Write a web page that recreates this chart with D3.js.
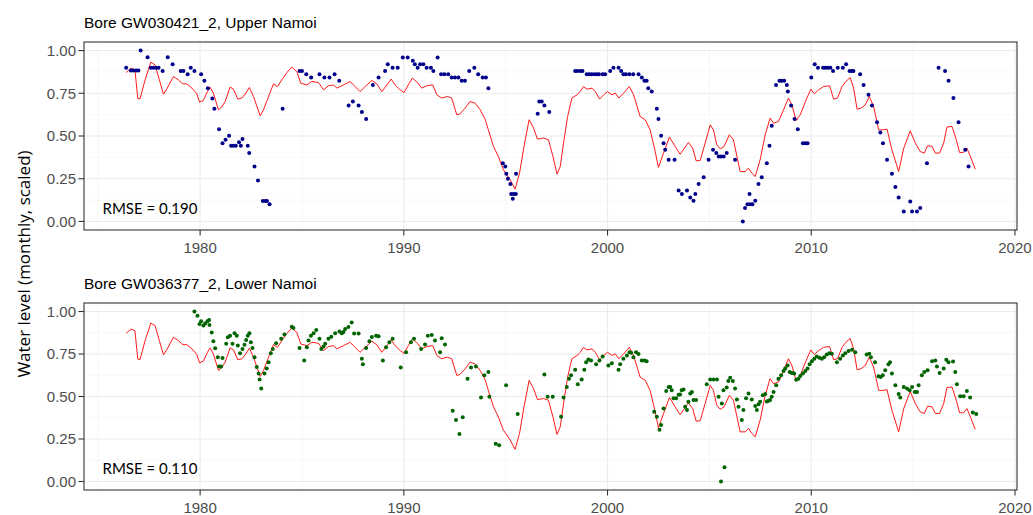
<!DOCTYPE html>
<html lang="en">
<head>
  <meta charset="UTF-8">
  <title>Bore water levels</title>
  <script src="https://d3js.org/d3.v7.min.js"></script>
  <style>
    body { margin: 0; background: #fff; }
    .grid-major { stroke: #ebebeb; stroke-width: 1.1; }
    .grid-minor { stroke: #f2f2f2; stroke-width: 0.6; }
    .frame { fill: none; stroke: #333333; stroke-width: 1.1; }
    .tick-mark { stroke: #333333; stroke-width: 1.1; }
    .tick-label { font-family: 'Liberation Sans', Arial, sans-serif; font-size: 15px; fill: #4d4d4d; }
    .panel-title { font-family: 'Liberation Sans', Arial, sans-serif; font-size: 15.5px; fill: #000; }
    .rmse { font-family: Lato, 'Open Sans', sans-serif; font-size: 15px; fill: #000; }
    .y-title { font-family: 'Open Sans', sans-serif; font-size: 17px; fill: #000; }
    .sim { fill: none; stroke: #ff0000; stroke-width: 0.9; }
  </style>
</head>
<body>
  <svg width="1033" height="515"></svg>
  <script>
    // simulated (scaled) water level, same model series in both panels
    const simulated = [[1976.37,0.871],[1976.6,0.897],[1976.8,0.887],[1976.94,0.72],[1977.05,0.717],[1977.3,0.829],[1977.58,0.932],[1977.79,0.916],[1978.0,0.829],[1978.2,0.745],[1978.36,0.774],[1978.69,0.848],[1978.93,0.829],[1979.15,0.805],[1979.35,0.805],[1979.6,0.780],[1979.84,0.747],[1979.97,0.698],[1980.16,0.708],[1980.36,0.760],[1980.49,0.786],[1980.65,0.751],[1980.9,0.653],[1981.06,0.669],[1981.23,0.702],[1981.47,0.786],[1981.64,0.774],[1981.85,0.716],[1982.05,0.722],[1982.21,0.745],[1982.42,0.784],[1982.62,0.731],[1982.95,0.618],[1983.11,0.653],[1983.36,0.731],[1983.6,0.805],[1983.8,0.789],[1984.01,0.829],[1984.26,0.871],[1984.5,0.903],[1984.75,0.877],[1984.94,0.809],[1985.24,0.799],[1985.48,0.819],[1985.81,0.813],[1986.06,0.770],[1986.3,0.794],[1986.55,0.799],[1986.71,0.780],[1987.04,0.799],[1987.36,0.819],[1987.61,0.789],[1987.85,0.760],[1988.1,0.789],[1988.43,0.825],[1988.67,0.805],[1988.92,0.760],[1989.17,0.799],[1989.38,0.833],[1989.57,0.799],[1989.82,0.770],[1990.01,0.754],[1990.22,0.799],[1990.42,0.839],[1990.67,0.813],[1990.88,0.780],[1991.13,0.794],[1991.42,0.799],[1991.62,0.741],[1991.86,0.722],[1992.14,0.731],[1992.35,0.722],[1992.6,0.624],[1992.76,0.630],[1993.01,0.663],[1993.25,0.702],[1993.5,0.692],[1993.75,0.653],[1993.99,0.599],[1994.15,0.536],[1994.4,0.439],[1994.64,0.380],[1994.89,0.302],[1995.22,0.244],[1995.46,0.189],[1995.68,0.283],[1995.9,0.439],[1996.15,0.595],[1996.37,0.546],[1996.56,0.482],[1996.86,0.488],[1997.1,0.478],[1997.32,0.380],[1997.52,0.277],[1997.68,0.322],[1997.84,0.458],[1998.04,0.614],[1998.25,0.722],[1998.5,0.741],[1998.66,0.760],[1998.82,0.789],[1998.99,0.774],[1999.24,0.780],[1999.4,0.760],[1999.61,0.716],[1999.81,0.741],[2000.0,0.760],[2000.22,0.741],[2000.38,0.751],[2000.55,0.722],[2000.79,0.751],[2001.07,0.789],[2001.28,0.741],[2001.6,0.614],[2001.85,0.595],[2002.09,0.536],[2002.34,0.409],[2002.5,0.316],[2002.75,0.400],[2003.04,0.494],[2003.32,0.439],[2003.56,0.393],[2003.97,0.462],[2004.18,0.429],[2004.35,0.355],[2004.55,0.357],[2004.79,0.458],[2005.04,0.565],[2005.2,0.536],[2005.36,0.449],[2005.53,0.425],[2005.72,0.439],[2005.98,0.507],[2006.18,0.478],[2006.51,0.292],[2006.75,0.292],[2006.92,0.312],[2007.08,0.283],[2007.25,0.263],[2007.49,0.361],[2007.74,0.507],[2007.98,0.605],[2008.15,0.575],[2008.39,0.585],[2008.64,0.653],[2008.88,0.722],[2009.05,0.682],[2009.26,0.591],[2009.46,0.624],[2009.75,0.712],[2009.98,0.774],[2010.15,0.747],[2010.36,0.770],[2010.6,0.789],[2010.9,0.794],[2011.1,0.716],[2011.29,0.722],[2011.51,0.789],[2011.7,0.819],[2011.91,0.842],[2012.08,0.780],[2012.25,0.657],[2012.44,0.663],[2012.65,0.682],[2012.85,0.731],[2013.06,0.673],[2013.31,0.536],[2013.52,0.536],[2013.72,0.540],[2013.96,0.419],[2014.29,0.292],[2014.54,0.429],[2014.86,0.530],[2015.11,0.458],[2015.35,0.409],[2015.55,0.400],[2015.71,0.443],[2015.93,0.439],[2016.09,0.400],[2016.3,0.400],[2016.5,0.458],[2016.66,0.552],[2016.91,0.556],[2017.12,0.478],[2017.28,0.404],[2017.48,0.404],[2017.64,0.429],[2017.8,0.384],[2018.05,0.306]];

    // observed, bore GW030421_2 (Upper Namoi)
    const upperObs = [[1976.37,0.90],[1976.6,0.883],[1976.73,0.883],[1976.86,0.883],[1976.97,0.883],[1977.08,1.00],[1977.42,0.961],[1977.58,0.90],[1977.71,0.90],[1977.84,0.90],[1977.96,0.90],[1978.16,0.881],[1978.41,0.961],[1978.65,0.92],[1979.05,0.881],[1979.18,0.881],[1979.39,0.862],[1979.54,0.90],[1979.72,0.881],[1980.05,0.862],[1980.21,0.823],[1980.38,0.780],[1980.6,0.72],[1980.7,0.659],[1980.93,0.540],[1981.1,0.458],[1981.25,0.478],[1981.42,0.502],[1981.52,0.443],[1981.63,0.443],[1981.75,0.443],[1981.91,0.463],[1982.0,0.443],[1982.08,0.482],[1982.34,0.443],[1982.41,0.40],[1982.67,0.322],[1982.84,0.24],[1983.08,0.12],[1983.2,0.12],[1983.28,0.12],[1983.41,0.101],[1984.05,0.659],[1984.88,0.881],[1985.0,0.881],[1985.21,0.862],[1985.45,0.842],[1985.86,0.862],[1986.1,0.842],[1986.35,0.842],[1986.6,0.862],[1986.83,0.823],[1987.29,0.678],[1987.5,0.702],[1987.78,0.678],[1987.94,0.640],[1988.15,0.60],[1988.48,0.799],[1988.76,0.842],[1989.08,0.881],[1989.21,0.920],[1989.45,0.90],[1989.7,0.90],[1989.95,0.96],[1990.19,0.96],[1990.44,0.940],[1990.54,0.920],[1990.68,0.90],[1990.8,0.920],[1990.96,0.920],[1991.12,0.90],[1991.33,0.90],[1991.45,0.881],[1991.66,0.96],[1991.83,0.862],[1991.99,0.862],[1992.18,0.862],[1992.35,0.842],[1992.51,0.842],[1992.68,0.842],[1992.84,0.823],[1993.0,0.823],[1993.21,0.881],[1993.46,0.90],[1993.65,0.862],[1993.87,0.842],[1994.03,0.842],[1994.15,0.78],[1994.86,0.341],[1994.98,0.322],[1995.03,0.279],[1995.11,0.25],[1995.23,0.219],[1995.27,0.161],[1995.35,0.133],[1995.39,0.161],[1995.5,0.161],[1995.51,0.279],[1996.57,0.630],[1996.65,0.702],[1996.77,0.702],[1996.9,0.678],[1997.14,0.640],[1998.41,0.881],[1998.52,0.881],[1998.66,0.881],[1998.77,0.881],[1998.98,0.862],[1999.1,0.862],[1999.22,0.862],[1999.35,0.862],[1999.47,0.862],[1999.58,0.862],[1999.76,0.862],[1999.88,0.862],[2000.13,0.881],[2000.29,0.90],[2000.54,0.90],[2000.67,0.881],[2000.78,0.862],[2000.9,0.862],[2001.07,0.862],[2001.26,0.862],[2001.52,0.862],[2001.68,0.842],[2001.81,0.823],[2001.92,0.823],[2002.0,0.78],[2002.17,0.760],[2002.42,0.659],[2002.5,0.60],[2002.63,0.501],[2002.75,0.458],[2002.83,0.419],[2003.0,0.361],[2003.29,0.361],[2003.49,0.181],[2003.65,0.160],[2003.9,0.181],[2004.06,0.140],[2004.22,0.121],[2004.31,0.160],[2004.47,0.219],[2004.72,0.259],[2004.96,0.361],[2005.18,0.419],[2005.34,0.40],[2005.46,0.38],[2005.57,0.38],[2005.7,0.38],[2005.85,0.40],[2006.26,0.361],[2006.64,0.0],[2006.75,0.078],[2006.87,0.10],[2006.97,0.160],[2007.0,0.10],[2007.11,0.10],[2007.25,0.121],[2007.41,0.219],[2007.57,0.259],[2007.82,0.341],[2007.95,0.443],[2008.06,0.560],[2008.27,0.799],[2008.44,0.823],[2008.55,0.823],[2008.67,0.823],[2008.8,0.799],[2008.85,0.760],[2009.01,0.678],[2009.18,0.60],[2009.34,0.540],[2009.59,0.458],[2009.71,0.458],[2009.82,0.458],[2010.0,0.842],[2010.17,0.920],[2010.33,0.90],[2010.58,0.90],[2010.69,0.90],[2010.81,0.90],[2010.94,0.90],[2011.07,0.881],[2011.3,0.90],[2011.55,0.90],[2011.71,0.920],[2011.88,0.881],[2011.99,0.881],[2012.07,0.881],[2012.4,0.862],[2012.57,0.799],[2012.81,0.741],[2012.98,0.678],[2013.23,0.581],[2013.39,0.520],[2013.52,0.458],[2013.72,0.361],[2013.96,0.279],[2014.13,0.201],[2014.29,0.140],[2014.54,0.058],[2014.86,0.117],[2014.95,0.058],[2015.19,0.058],[2015.35,0.078],[2015.68,0.341],[2016.25,0.90],[2016.57,0.881],[2016.74,0.823],[2016.98,0.722],[2017.23,0.581],[2017.56,0.419],[2017.72,0.322]];

    // observed, bore GW036377_2 (Lower Namoi)
    const lowerObs = [[1979.72,1.00],[1979.87,0.975],[1979.97,0.926],[1980.05,0.942],[1980.16,0.917],[1980.25,0.930],[1980.36,0.942],[1980.44,0.950],[1980.46,0.921],[1980.57,0.877],[1980.65,0.825],[1980.74,0.784],[1980.87,0.731],[1980.93,0.677],[1981.03,0.677],[1981.1,0.726],[1981.28,0.810],[1981.36,0.848],[1981.47,0.858],[1981.59,0.810],[1981.69,0.872],[1981.8,0.858],[1981.85,0.800],[1981.96,0.755],[1982.08,0.780],[1982.18,0.804],[1982.26,0.833],[1982.34,0.858],[1982.42,0.872],[1982.49,0.819],[1982.57,0.786],[1982.67,0.731],[1982.78,0.673],[1982.87,0.635],[1982.92,0.600],[1983.0,0.547],[1983.16,0.635],[1983.27,0.664],[1983.36,0.702],[1983.47,0.755],[1983.57,0.780],[1983.73,0.813],[1983.98,0.839],[1984.14,0.864],[1984.5,0.911],[1984.58,0.903],[1984.88,0.786],[1985.11,0.712],[1985.24,0.790],[1985.32,0.829],[1985.44,0.858],[1985.57,0.872],[1985.7,0.891],[1985.86,0.839],[1985.95,0.780],[1986.06,0.794],[1986.14,0.810],[1986.3,0.839],[1986.44,0.852],[1986.63,0.872],[1986.84,0.883],[1986.96,0.872],[1987.04,0.88],[1987.12,0.897],[1987.28,0.909],[1987.44,0.936],[1987.56,0.87],[1987.78,0.87],[1987.94,0.722],[1987.99,0.689],[1988.15,0.786],[1988.31,0.825],[1988.43,0.85],[1988.64,0.858],[1988.76,0.855],[1988.97,0.712],[1989.13,0.790],[1989.29,0.819],[1989.45,0.839],[1989.85,0.670],[1990.11,0.761],[1990.35,0.819],[1990.5,0.839],[1990.85,0.780],[1991.04,0.806],[1991.18,0.858],[1991.37,0.862],[1991.53,0.829],[1991.78,0.761],[1991.86,0.842],[1992.02,0.806],[1992.4,0.416],[1992.56,0.362],[1992.73,0.280],[1992.89,0.378],[1993.13,0.605],[1993.3,0.670],[1993.54,0.677],[1993.79,0.494],[1993.95,0.625],[1994.15,0.644],[1994.2,0.498],[1994.51,0.222],[1994.68,0.213],[1995.02,0.566],[1995.59,0.397],[1996.9,0.630],[1997.06,0.498],[1997.31,0.498],[1997.72,0.381],[1997.84,0.494],[1998.0,0.556],[1998.11,0.605],[1998.21,0.625],[1998.41,0.658],[1998.54,0.572],[1998.73,0.600],[1998.86,0.658],[1998.95,0.702],[1999.06,0.718],[1999.19,0.712],[1999.44,0.689],[1999.6,0.712],[1999.76,0.735],[2000.04,0.683],[2000.21,0.696],[2000.54,0.658],[2000.62,0.689],[2000.78,0.722],[2000.95,0.741],[2001.08,0.76],[2001.16,0.758],[2001.27,0.731],[2001.4,0.76],[2001.52,0.75],[2001.68,0.712],[2001.81,0.712],[2001.92,0.708],[2002.29,0.410],[2002.42,0.381],[2002.55,0.304],[2002.63,0.333],[2002.75,0.430],[2002.88,0.533],[2003.0,0.556],[2003.08,0.556],[2003.15,0.537],[2003.24,0.49],[2003.37,0.49],[2003.49,0.51],[2003.56,0.512],[2003.64,0.537],[2003.73,0.541],[2003.81,0.440],[2003.9,0.420],[2003.97,0.469],[2004.06,0.518],[2004.14,0.527],[2004.22,0.48],[2004.35,0.48],[2004.87,0.572],[2005.04,0.60],[2005.2,0.60],[2005.37,0.60],[2005.45,0.498],[2005.57,0.0],[2005.61,0.459],[2005.69,0.537],[2005.74,0.084],[2005.85,0.553],[2005.93,0.591],[2006.02,0.611],[2006.15,0.591],[2006.26,0.547],[2006.35,0.483],[2006.43,0.440],[2006.59,0.362],[2006.67,0.420],[2006.8,0.489],[2006.92,0.518],[2007.08,0.483],[2007.25,0.444],[2007.33,0.420],[2007.41,0.455],[2007.49,0.469],[2007.62,0.508],[2007.74,0.514],[2007.82,0.47],[2007.9,0.475],[2007.98,0.48],[2008.06,0.498],[2008.15,0.527],[2008.28,0.566],[2008.39,0.605],[2008.52,0.625],[2008.64,0.650],[2008.72,0.664],[2008.84,0.683],[2008.94,0.644],[2009.05,0.638],[2009.16,0.635],[2009.26,0.598],[2009.37,0.605],[2009.46,0.621],[2009.59,0.635],[2009.71,0.650],[2009.82,0.664],[2009.92,0.689],[2010.03,0.708],[2010.15,0.722],[2010.27,0.735],[2010.4,0.728],[2010.52,0.722],[2010.63,0.731],[2010.76,0.747],[2010.89,0.755],[2011.01,0.751],[2011.26,0.702],[2011.42,0.722],[2011.55,0.741],[2011.67,0.755],[2011.83,0.767],[2012.0,0.775],[2012.16,0.761],[2012.72,0.747],[2012.85,0.751],[2012.93,0.731],[2013.13,0.702],[2013.3,0.619],[2013.41,0.615],[2013.51,0.625],[2013.63,0.654],[2013.79,0.689],[2013.87,0.702],[2013.96,0.635],[2014.13,0.566],[2014.29,0.514],[2014.37,0.494],[2014.54,0.556],[2014.7,0.547],[2014.83,0.537],[2014.95,0.556],[2015.08,0.527],[2015.19,0.527],[2015.27,0.566],[2015.43,0.625],[2015.55,0.644],[2015.71,0.654],[2015.93,0.708],[2016.09,0.712],[2016.17,0.677],[2016.3,0.638],[2016.5,0.664],[2016.63,0.716],[2016.74,0.702],[2016.96,0.706],[2017.07,0.644],[2017.15,0.572],[2017.31,0.502],[2017.48,0.502],[2017.64,0.533],[2017.8,0.494],[2017.93,0.406],[2018.1,0.397]];

    const xTicks = [1980, 1990, 2000, 2010, 2020];
    const xMinor = [1975, 1985, 1995, 2005, 2015];
    const yTicks = [0, 0.25, 0.5, 0.75, 1];
    const yMinor = [0.125, 0.375, 0.625, 0.875];

    const panels = [
      { title: "Bore GW030421_2, Upper Namoi", obs: upperObs, color: "#00008b", rmse: "RMSE = 0.190", top: 42, bottom: 230 },
      { title: "Bore GW036377_2, Lower Namoi", obs: lowerObs, color: "#006400", rmse: "RMSE = 0.110", top: 303, bottom: 490 }
    ];

    const svg = d3.select("svg");
    const left = 84, right = 1017;
    const x = d3.scaleLinear().domain([1974.3, 2020.1]).range([left, right]);

    panels.forEach(p => {
      const y = d3.scaleLinear().domain([-0.05, 1.05]).range([p.bottom, p.top]);
      const g = svg.append("g");

      g.selectAll(".gy-minor").data(yMinor).enter().append("line")
        .attr("class", "grid-minor")
        .attr("x1", left).attr("x2", right)
        .attr("y1", d => y(d)).attr("y2", d => y(d));
      g.selectAll(".gx-minor").data(xMinor).enter().append("line")
        .attr("class", "grid-minor")
        .attr("y1", p.top).attr("y2", p.bottom)
        .attr("x1", d => x(d)).attr("x2", d => x(d));
      g.selectAll(".gy").data(yTicks).enter().append("line")
        .attr("class", "grid-major")
        .attr("x1", left).attr("x2", right)
        .attr("y1", d => y(d)).attr("y2", d => y(d));
      g.selectAll(".gx").data(xTicks.filter(d => x(d) < right - 2)).enter().append("line")
        .attr("class", "grid-major")
        .attr("y1", p.top).attr("y2", p.bottom)
        .attr("x1", d => x(d)).attr("x2", d => x(d));

      g.append("path")
        .datum(simulated)
        .attr("class", "sim")
        .attr("d", d3.line().x(d => x(d[0])).y(d => y(d[1])));

      g.selectAll("circle").data(p.obs).enter().append("circle")
        .attr("cx", d => x(d[0]))
        .attr("cy", d => y(d[1]))
        .attr("r", 2)
        .attr("fill", p.color);

      g.append("rect")
        .attr("class", "frame")
        .attr("x", left).attr("y", p.top)
        .attr("width", right - left).attr("height", p.bottom - p.top);

      // y axis
      g.selectAll(".yt").data(yTicks).enter().append("line")
        .attr("class", "tick-mark")
        .attr("x1", left - 5.5).attr("x2", left)
        .attr("y1", d => y(d)).attr("y2", d => y(d));
      g.selectAll(".yl").data(yTicks).enter().append("text")
        .attr("class", "tick-label")
        .attr("x", left - 8)
        .attr("y", d => y(d) + 5.3)
        .attr("text-anchor", "end")
        .text(d3.format(".2f"));

      // x axis
      g.selectAll(".xt").data(xTicks).enter().append("line")
        .attr("class", "tick-mark")
        .attr("x1", d => x(d)).attr("x2", d => x(d))
        .attr("y1", p.bottom).attr("y2", p.bottom + 5.5);
      g.selectAll(".xl").data(xTicks).enter().append("text")
        .attr("class", "tick-label")
        .attr("x", d => x(d))
        .attr("y", p.bottom + 22.7)
        .attr("text-anchor", "middle")
        .text(d => d);

      g.append("text")
        .attr("class", "panel-title")
        .attr("x", left)
        .attr("y", p.top - 14.3)
        .text(p.title);

      g.append("text")
        .attr("class", "rmse")
        .attr("x", 102.5)
        .attr("y", p.bottom - 15.6)
        .text(p.rmse);
    });

    svg.append("text")
      .attr("class", "y-title")
      .attr("transform", "translate(29.5,264) rotate(-90)")
      .attr("text-anchor", "middle")
      .text("Water level (monthly, scaled)");
  </script>
</body>
</html>
